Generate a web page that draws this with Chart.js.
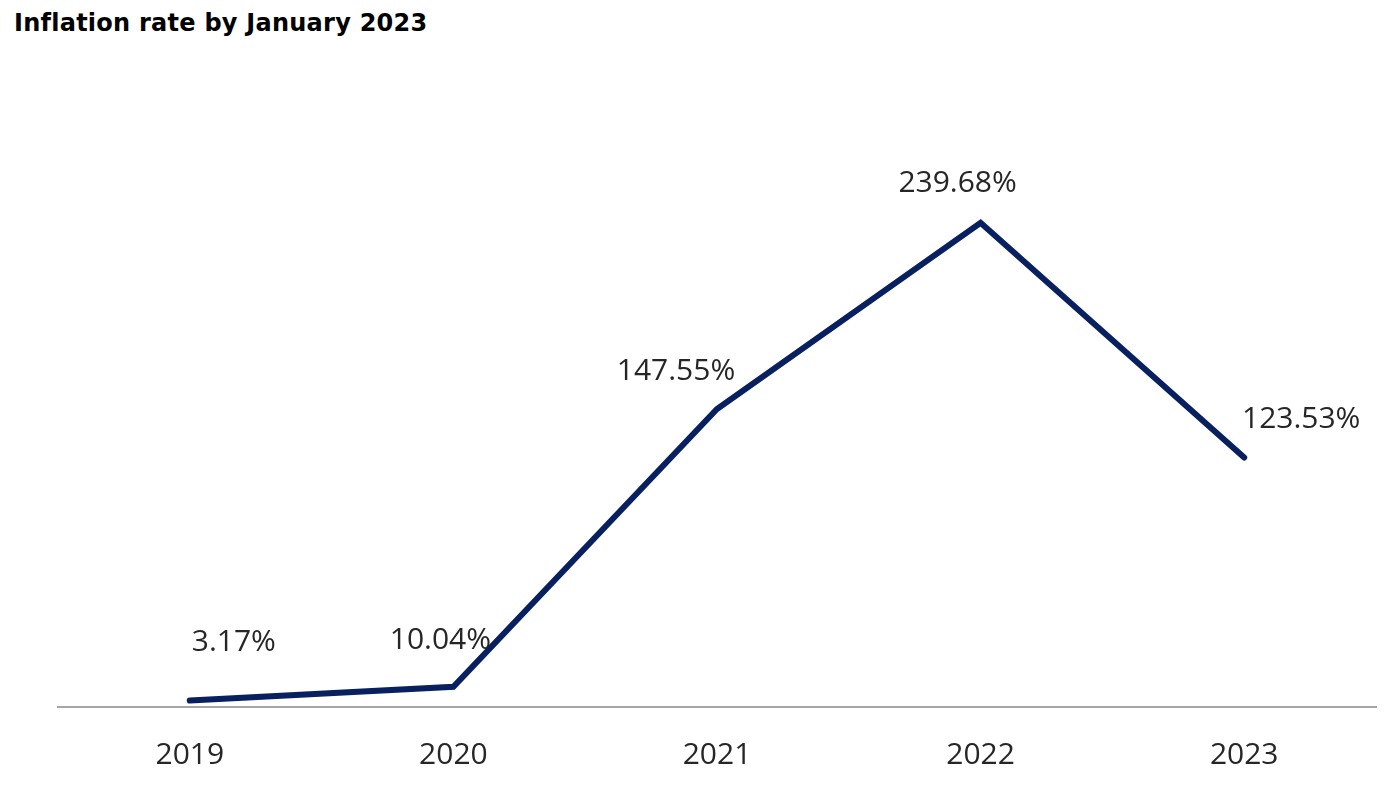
<!DOCTYPE html>
<html>
<head>
<meta charset="utf-8">
<script src="https://cdn.jsdelivr.net/npm/chart.js@4"></script>
<style>
  html, body { margin: 0; padding: 0; background: #ffffff; }
  #wrap { position: relative; width: 1392px; height: 811px; }
  #title { position: absolute; left: 14px; top: 9px; font-family: "DejaVu Sans", sans-serif; font-weight: bold; font-size: 24px; letter-spacing: 0.25px; color: #000; white-space: nowrap; }
  canvas { position: absolute; left: 0; top: 0; }
</style>
</head>
<body>
<div id="wrap">
  <div id="title">Inflation rate by January 2023</div>
  <canvas id="c" width="1392" height="811"></canvas>
</div>
<script>
const categories = ["2019", "2020", "2021", "2022", "2023"];
const inflation = [3.17, 10.04, 147.55, 239.68, 123.53];
const valueLabels = ["3.17%", "10.04%", "147.55%", "239.68%", "123.53%"];

// label placement offsets relative to each point (pixels)
const labelOffsets = [[44, -58], [-13, -46], [-41, -37], [-23, -39], [57, -38]];

const labelPlugin = {
  id: 'pointLabels',
  afterDatasetsDraw(chart) {
    const ctx = chart.ctx;
    const meta = chart.getDatasetMeta(0);
    ctx.save();
    ctx.font = '30px "Open Sans", sans-serif';
    ctx.fillStyle = '#262626';
    ctx.textAlign = 'center';
    ctx.textBaseline = 'middle';
    meta.data.forEach((pt, i) => {
      const off = labelOffsets[i];
      ctx.fillText(valueLabels[i], pt.x + off[0], pt.y + off[1]);
    });
    ctx.restore();
  }
};

new Chart(document.getElementById('c'), {
  type: 'line',
  data: {
    labels: categories,
    datasets: [{
      data: inflation,
      borderColor: '#082060',
      borderWidth: 6,
      pointRadius: 0,
      tension: 0,
      fill: false,
      borderCapStyle: 'round',
      borderJoinStyle: 'miter'
    }]
  },
  options: {
    responsive: false,
    animation: false,
    layout: { padding: { left: 58, right: 16, top: 101, bottom: 0 } },
    plugins: { legend: { display: false }, tooltip: { enabled: false }, title: { display: false } },
    scales: {
      x: {
        offset: true,
        grid: { display: false, drawTicks: false },
        border: { display: true, color: '#a6a6a6', width: 2 },
        ticks: { color: '#262626', font: { family: '"Open Sans", sans-serif', size: 30 }, padding: 30, maxRotation: 0 },
        afterFit(scale) { scale.height = 104; }
      },
      y: {
        display: false,
        min: 0,
        max: 300
      }
    }
  },
  plugins: [labelPlugin]
});
</script>
</body>
</html>
